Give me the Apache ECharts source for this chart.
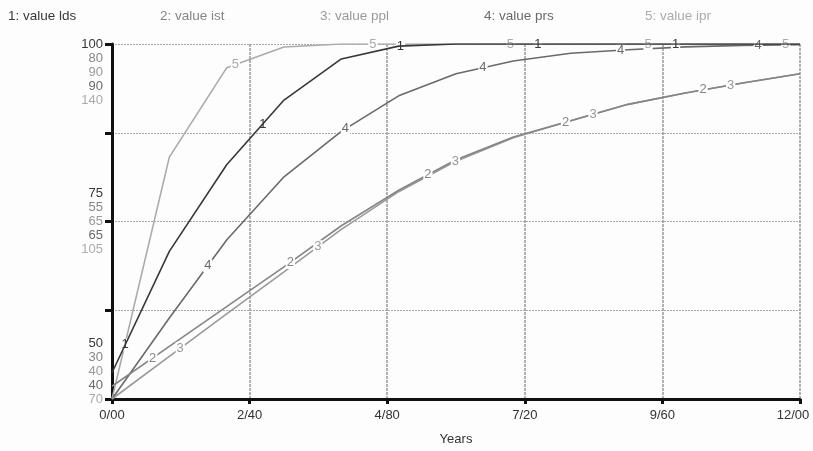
<!DOCTYPE html>
<html><head><meta charset="utf-8">
<script src="https://cdn.jsdelivr.net/npm/echarts@6/dist/echarts.min.js"></script>
<style>html,body{margin:0;padding:0;background:#fdfdfd}#c{width:813px;height:451px}</style>
</head><body><div id="c"></div>
<script>
// ---- data ----
const years = [0,1,2,3,4,5,6,7,8,9,10,11,12];
const valueLds = [53.7,70.8,83.0,92.1,97.9,99.7,100,100,100,100,100,100,100];
const valueIst = [31.8,37.4,43.0,48.6,54.4,59.4,63.7,66.9,69.2,71.5,73.1,74.5,75.8];
const valuePpl = [40.0,46.0,52.0,57.9,63.9,69.2,73.5,76.8,79.2,81.5,83.1,84.5,85.8];
const valuePrs = [40.0,51.4,62.4,71.3,77.7,82.7,85.8,87.6,88.7,89.2,89.6,89.8,89.9];
const valueIpr = [70.0,117.7,135.3,139.4,140,140,140,140,140,140,140,140,140];
const seriesNames = ['value lds','value ist','value ppl','value prs','value ipr'];
const axisMin = [50,30,40,40,70];
const axisMax = [100,80,90,90,140];
const labelStart = [0.23,0.71,1.19,1.67,2.15];
const labelStep = 2.4;
const xMin = 0, xMax = 12, xInterval = 2.4;

// ---- style ----
const colors = ['#383838','#858585','#999999','#6a6a6a','#ababab'];
const bg = '#fdfdfd';
const font = '"Liberation Sans", Arial, sans-serif';
const fs = 13;
const allValues = [valueLds,valueIst,valuePpl,valuePrs,valueIpr];

function interp(vals, t){
  for (let i=0;i<years.length-1;i++){
    if (t>=years[i] && t<=years[i+1]){
      const f=(t-years[i])/(years[i+1]-years[i]);
      return vals[i]+f*(vals[i+1]-vals[i]);
    }
  }
  return vals[vals.length-1];
}

const yAxes = axisMin.map((mn,i)=>({
  type:'value', min:mn, max:axisMax[i], interval:(axisMax[i]-mn)/4,
  show: i===0,
  gridIndex:0
}));
const rich = {s:{fontSize:fs,lineHeight:14,fontFamily:font,color:bg}};
colors.forEach((c,i)=>{ rich['c'+i]={fontSize:fs,lineHeight:14,fontFamily:font,color:c,align:'right'}; });
Object.assign(yAxes[0], {
  axisLine:{show:true,lineStyle:{color:'#111',width:3}},
  axisTick:{show:true,length:7,lineStyle:{color:'#111',width:3}},
  splitLine:{show:true,lineStyle:{color:'#aaa',type:[2,1],width:1}},
  axisLabel:{
    margin:9,
    formatter:function(v,idx){
      const f=(v-axisMin[0])/(axisMax[0]-axisMin[0]);
      if (Math.abs(f-0.25)<1e-6 || Math.abs(f-0.75)<1e-6) return '';
      const lines = axisMin.map((mn,i)=>'{c'+i+'|'+Math.round(mn+f*(axisMax[i]-mn))+'}');
      const blanks = ['{s| }','{s| }','{s| }','{s| }'];
      if (f<0.01) return lines.concat(blanks).join('\n');
      if (f>0.99) return blanks.concat(lines).join('\n');
      return lines.join('\n');
    },
    rich: rich
  }
});

const series = allValues.map((vals,i)=>{
  const mp=[];
  for (let k=0;k<5;k++){
    const t=labelStart[i]+k*labelStep;
    if (t<=xMax) mp.push({coord:[t, interp(vals,t)], value:String(i+1)});
  }
  return {
    name:seriesNames[i], type:'line', yAxisIndex:i,
    data: years.map((y,j)=>[y,vals[j]]),
    showSymbol:false, symbol:'none',
    lineStyle:{color:colors[i],width:1.6},
    itemStyle:{color:colors[i]},
    z: 5-i,
    markPoint:{
      symbol:'circle', symbolSize:0.1,
      itemStyle:{color:'rgba(0,0,0,0)'},
      label:{show:true,position:'inside',formatter:'{c}',color:colors[i],fontSize:fs,fontFamily:font,
        backgroundColor:bg,padding:[0,1],lineHeight:13},
      data: mp
    }
  };
});

const chart = echarts.init(document.getElementById('c'));
chart.setOption({
  backgroundColor:bg,
  animation:false,
  grid:{left:112,right:13,top:44,bottom:52,containLabel:false,outerBoundsMode:'none'},
  xAxis:{
    type:'value', min:xMin, max:xMax, interval:xInterval,
    name:'Years', nameLocation:'middle', nameGap:34,
    nameTextStyle:{color:'#333',fontSize:fs,fontFamily:font},
    axisLine:{lineStyle:{color:'#111',width:3}},
    axisTick:{length:5,lineStyle:{color:'#111',width:3}},
    axisLabel:{color:'#333',fontSize:fs,fontFamily:font,margin:10,
      formatter:v=>{
        const s=v.toFixed(2).replace('.','/');
        return v>=xMax-1e-9 ? '{m|'+s+'}' : s;
      },
      rich:{m:{color:'#333',fontSize:fs,fontFamily:font,padding:[0,14,0,0]}}},
    splitLine:{show:true,lineStyle:{color:'#999',type:[3,1],width:1.5}}
  },
  yAxis:yAxes,
  graphic: seriesNames.map((n,i)=>({
    type:'text', left:[8,160,320,484,645][i], top:9,
    style:{text:(i+1)+': '+n, fill:colors[i], font:'13.5px '+font}
  })),
  series:series
});
</script></body></html>
